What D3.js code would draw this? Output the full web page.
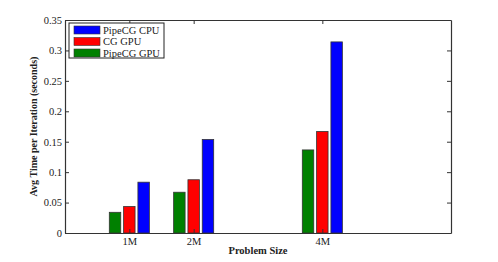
<!DOCTYPE html>
<html>
<head>
<meta charset="utf-8">
<script src="https://cdn.jsdelivr.net/npm/d3@7"></script>
<style>
  body { margin: 0; background: #fff; }
  text { font-family: "Liberation Serif", "Times New Roman", serif; fill: #222; }
</style>
</head>
<body>
<div id="chart"></div>
<script>
// problem sizes (x position in millions) and tick labels
var sizes = [1, 2, 4];
var sizeLabels = ["1M", "2M", "4M"];

// series, drawn left to right inside each group
var seriesNames = ["PipeCG GPU", "CG GPU", "PipeCG CPU"];
var seriesColors = ["#008000", "#ff0000", "#0000ff"];
var pipeGpu = [0.034, 0.067, 0.1365];
var cgGpu = [0.0435, 0.0875, 0.1668];
var pipeCpu = [0.0835, 0.1537, 0.314];
var yTicks = [0, 0.05, 0.1, 0.15, 0.2, 0.25, 0.3, 0.35];

var bySeries = [pipeGpu, cgGpu, pipeCpu];

var width = 498, height = 262;
var mLeft = 65, mTop = 20, mRight = 451, mBottom = 233;

var svg = d3.select("#chart").append("svg")
    .attr("width", width)
    .attr("height", height);

var x = d3.scaleLinear().domain([0, 6]).range([mLeft, mRight]);
var y = d3.scaleLinear().domain([0, 0.35]).range([mBottom, mTop]);

// matlab-style grouped bars: slot of 0.222 units, bar 80% of slot
var slot = 0.667 / 3;
var barW = slot * 0.8;

bySeries.forEach(function(vals, i) {
    svg.append("g")
        .selectAll("rect")
        .data(vals)
        .enter()
        .append("rect")
        .attr("x", function(d, j) { return x(sizes[j] + (i - 1) * slot - barW / 2); })
        .attr("width", x(barW) - x(0))
        .attr("y", function(d) { return y(d); })
        .attr("height", function(d) { return y(0) - y(d); })
        .attr("fill", seriesColors[i])
        .attr("stroke", "#333")
        .attr("stroke-width", 0.8);
});

// axes with inward ticks, box on
var axisColor = "#333";
var xb = svg.append("g").attr("transform", "translate(0," + mBottom + ")")
    .call(d3.axisBottom(x).tickValues(sizes).tickSizeInner(-4).tickSizeOuter(0).tickPadding(5)
        .tickFormat(function(d, i) { return sizeLabels[i]; }));
var xt = svg.append("g").attr("transform", "translate(0," + mTop + ")")
    .call(d3.axisTop(x).tickValues(sizes).tickSizeInner(-4).tickSizeOuter(0).tickFormat(""));
var yl = svg.append("g").attr("transform", "translate(" + mLeft + ",0)")
    .call(d3.axisLeft(y).tickValues(yTicks).tickSizeInner(-4).tickSizeOuter(0).tickPadding(3)
        .tickFormat(function(d) { return d === 0 ? "0" : String(+d.toFixed(2)); }));
var yr = svg.append("g").attr("transform", "translate(" + mRight + ",0)")
    .call(d3.axisRight(y).tickValues(yTicks).tickSizeInner(-4).tickSizeOuter(0).tickFormat(""));

[xb, xt, yl, yr].forEach(function(g) {
    g.selectAll("path").attr("stroke", axisColor).attr("stroke-width", 1.2);
    g.selectAll("line").attr("stroke", axisColor);
    g.selectAll("text")
        .attr("font-family", "Liberation Serif, serif")
        .attr("font-size", 10.5)
        .attr("fill", "#222");
});

svg.append("text")
    .attr("x", (mLeft + mRight) / 2)
    .attr("y", 254)
    .attr("text-anchor", "middle")
    .attr("font-size", 10.5)
    .attr("font-weight", "bold")
    .text("Problem Size");

svg.append("text")
    .attr("transform", "translate(37," + ((mTop + mBottom) / 2) + ")rotate(-90)")
    .attr("text-anchor", "middle")
    .attr("font-size", 10)
    .attr("font-weight", "bold")
    .text("Avg Time per Iteration (seconds)");

// legend, reversed order like matlab's
var legend = svg.append("g").attr("transform", "translate(69,23)");
legend.append("rect")
    .attr("width", 95)
    .attr("height", 35)
    .attr("fill", "#fff")
    .attr("stroke", "#222")
    .attr("stroke-width", 1);

var legendOrder = [2, 1, 0];
legendOrder.forEach(function(s, k) {
    var row = legend.append("g").attr("transform", "translate(5," + (3 + k * 11.5) + ")");
    row.append("rect")
        .attr("width", 26)
        .attr("height", 8)
        .attr("fill", seriesColors[s])
        .attr("stroke", "#333")
        .attr("stroke-width", 0.6);
    row.append("text")
        .attr("x", 29)
        .attr("y", 7.5)
        .attr("font-size", 10.5)
        .text(seriesNames[s]);
});
</script>
</body>
</html>
